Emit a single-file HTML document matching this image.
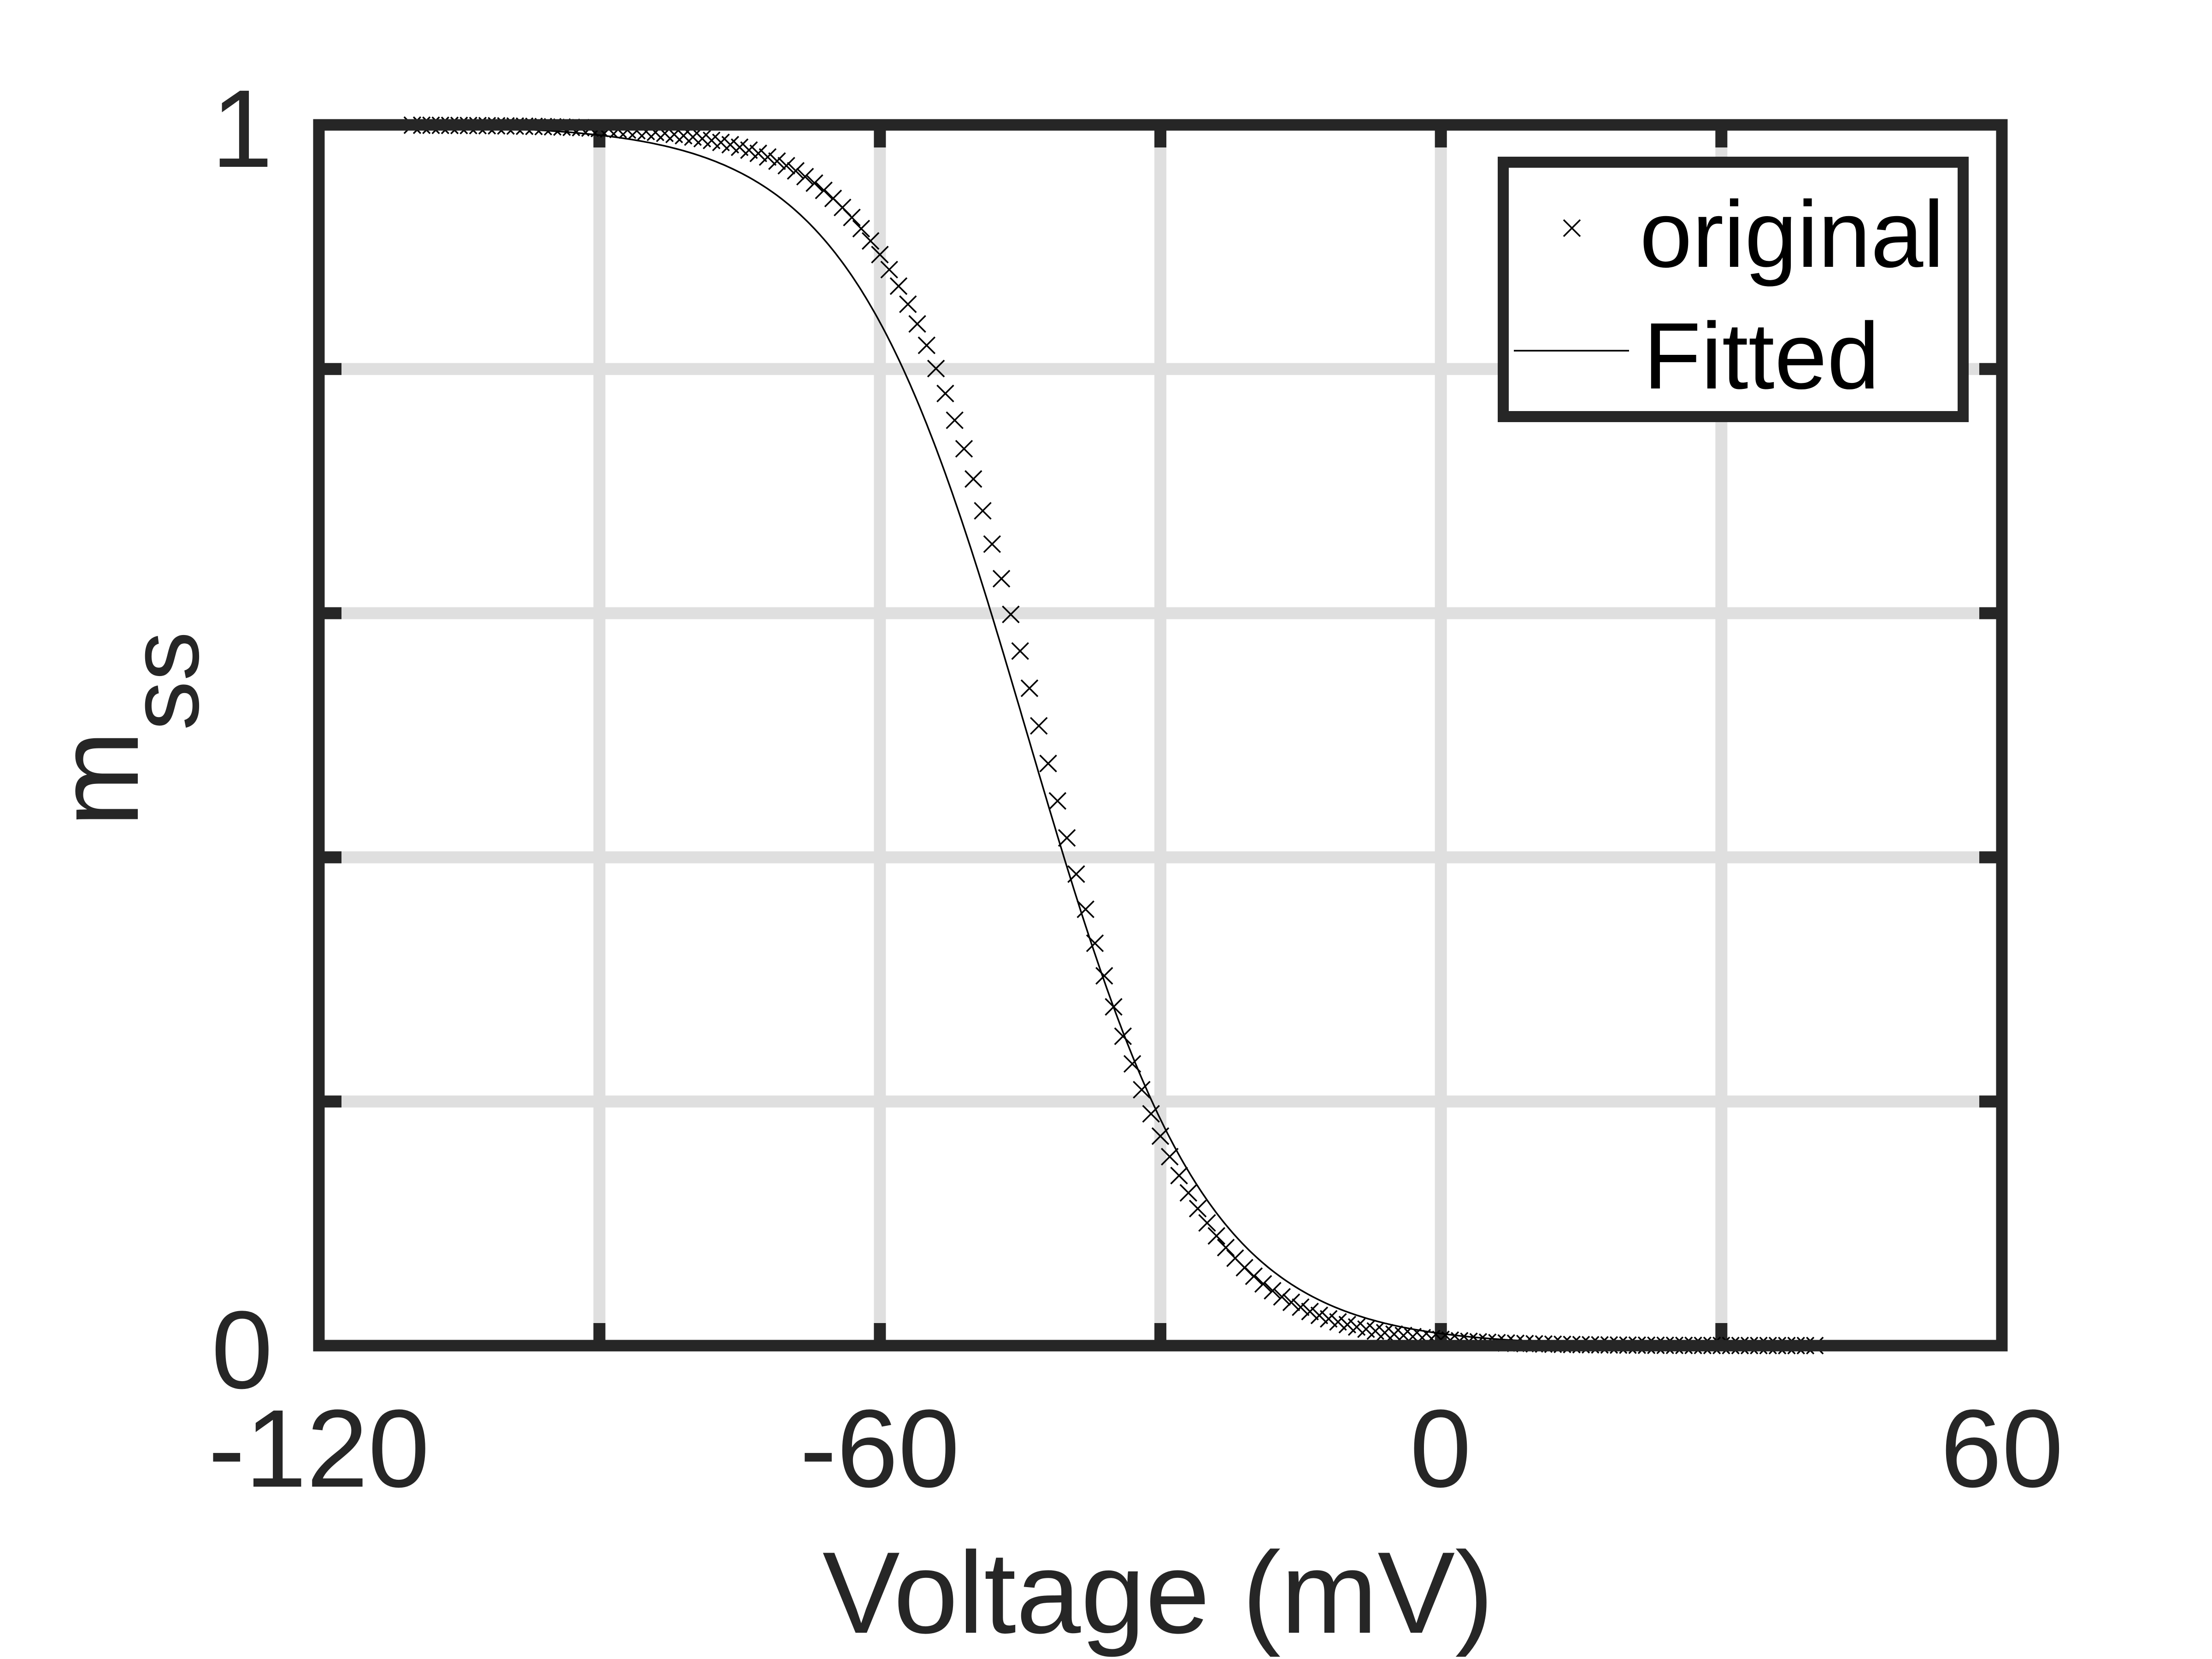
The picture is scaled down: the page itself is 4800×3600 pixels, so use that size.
<!DOCTYPE html>
<html><head><meta charset="utf-8"><style>
html,body{margin:0;padding:0;background:#fff;}
svg{display:block;}
text{font-family:"Liberation Sans",Arial,sans-serif;fill:#262626;}
</style></head><body>
<svg id="s" width="4800" height="3600" viewBox="0 0 4800 3600" xmlns="http://www.w3.org/2000/svg">
<rect width="4800" height="3600" fill="#fff"/>
<g id="grid" stroke="#dfdfdf" stroke-width="26"></g>
<g id="ticks" stroke="#262626" stroke-width="26"></g>
<path id="fit" fill="none" stroke="#000" stroke-width="3.5"/>
<path id="orig" fill="none" stroke="#000" stroke-width="3.5"/>
<rect x="692" y="271" width="3652" height="2649" fill="none" stroke="#262626" stroke-width="25"/>
<g font-size="240" text-anchor="middle">
<text x="692" y="3226">-120</text>
<text x="1909" y="3226">-60</text>
<text x="3126" y="3226">0</text>
<text x="4344" y="3226">60</text>
</g>
<g font-size="240" text-anchor="end">
<text x="592" y="362">1</text>
<text x="592" y="3012">0</text>
</g>
<text x="2513" y="3543" font-size="252" text-anchor="middle">Voltage (mV)</text>
<text transform="translate(299,1795) rotate(-90)" font-size="252">m<tspan font-size="215" dy="131">ss</tspan></text>
<rect x="3262" y="352" width="998" height="552" fill="#fff" stroke="#262626" stroke-width="24"/>
<path d="M3393,477 L3429,513 M3429,477 L3393,513" stroke="#000" stroke-width="3.5"/>
<line x1="3285" y1="761" x2="3535" y2="761" stroke="#000" stroke-width="3.5"/>
<text x="3558" y="579" font-size="205" style="fill:#000">original</text>
<text x="3566" y="843" font-size="205" style="fill:#000">Fitted</text>
</svg>
<script>
var L=692,R=4344,T=271,B=2920;
function X(v){return L+(v+120)/180*(R-L);}
function Y(m){return B-m*(B-T);}
var g=document.getElementById('grid'),t=document.getElementById('ticks'),ns="http://www.w3.org/2000/svg";
function ln(p,x1,y1,x2,y2){var e=document.createElementNS(ns,'line');e.setAttribute('x1',x1);e.setAttribute('y1',y1);e.setAttribute('x2',x2);e.setAttribute('y2',y2);p.appendChild(e);}
for(var v=-90;v<60;v+=30){var x=X(v);ln(g,x,T,x,B);ln(t,x,B,x,B-49);ln(t,x,T,x,T+49);}
for(var i=1;i<5;i++){var y=Y(i/5);ln(g,L,y,R,y);ln(t,L,y,L+49,y);ln(t,R,y,R-49,y);}
var d="";
for(var v=-110;v<=40.01;v+=0.25){var m=1/(1+Math.exp((v+44.2)/9.6));d+=(d?"L":"M")+X(v).toFixed(1)+","+Y(m).toFixed(1);}
document.getElementById('fit').setAttribute('d',d);
var o="",s=18;
for(var v=-110;v<=40;v+=1){var m=1/(1+Math.exp((v+42.75)/8.1));var x=X(v),y=Y(m);o+="M"+(x-s)+","+(y-s)+"L"+(x+s)+","+(y+s)+"M"+(x+s)+","+(y-s)+"L"+(x-s)+","+(y+s);}
document.getElementById('orig').setAttribute('d',o);
</script>
</body></html>
